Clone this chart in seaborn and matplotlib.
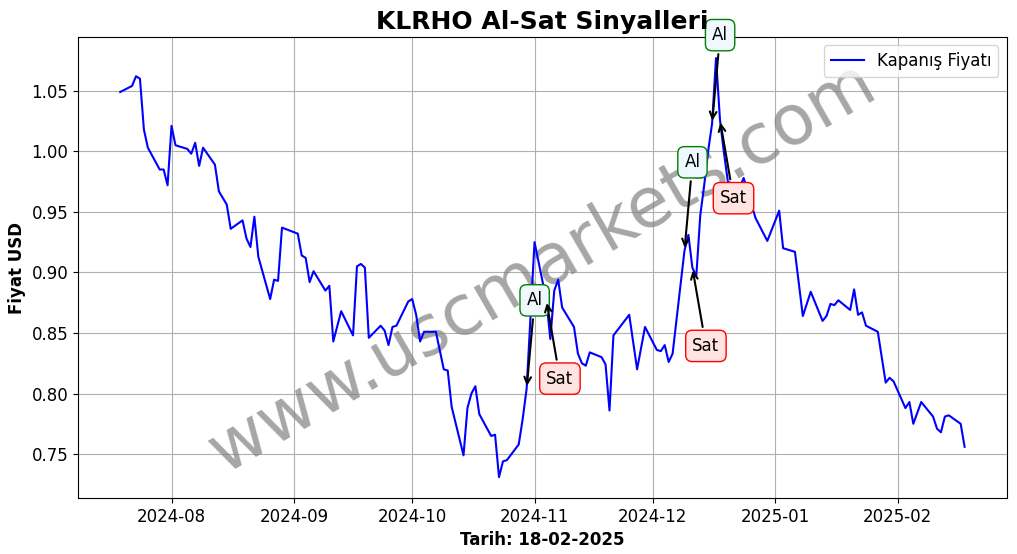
import pandas as pd
import matplotlib
matplotlib.use("Agg")
import matplotlib.pyplot as plt
import seaborn as sns

# Kapanis fiyatlari
tarihler = [
    "2024-07-19", "2024-07-22", "2024-07-23", "2024-07-24", "2024-07-25", "2024-07-26",
    "2024-07-29", "2024-07-30", "2024-07-31", "2024-08-01", "2024-08-02", "2024-08-05",
    "2024-08-06", "2024-08-07", "2024-08-08", "2024-08-09", "2024-08-12", "2024-08-13",
    "2024-08-15", "2024-08-16", "2024-08-19", "2024-08-20", "2024-08-21", "2024-08-22",
    "2024-08-23", "2024-08-26", "2024-08-27", "2024-08-28", "2024-08-29", "2024-09-02",
    "2024-09-03", "2024-09-04", "2024-09-05", "2024-09-06", "2024-09-09", "2024-09-10",
    "2024-09-11", "2024-09-13", "2024-09-16", "2024-09-17", "2024-09-18", "2024-09-19",
    "2024-09-20", "2024-09-23", "2024-09-24", "2024-09-25", "2024-09-26", "2024-09-27",
    "2024-09-30", "2024-10-01", "2024-10-02", "2024-10-03", "2024-10-04", "2024-10-07",
    "2024-10-09", "2024-10-10", "2024-10-11", "2024-10-14", "2024-10-15", "2024-10-16",
    "2024-10-17", "2024-10-18", "2024-10-21", "2024-10-22", "2024-10-23", "2024-10-24",
    "2024-10-25", "2024-10-28", "2024-10-29", "2024-10-30", "2024-11-01", "2024-11-04",
    "2024-11-05", "2024-11-06", "2024-11-07", "2024-11-08", "2024-11-11", "2024-11-12",
    "2024-11-13", "2024-11-14", "2024-11-15", "2024-11-18", "2024-11-19", "2024-11-20",
    "2024-11-21", "2024-11-25", "2024-11-27", "2024-11-29", "2024-12-02", "2024-12-03",
    "2024-12-04", "2024-12-05", "2024-12-06", "2024-12-09", "2024-12-10", "2024-12-11",
    "2024-12-12", "2024-12-13", "2024-12-14", "2024-12-15", "2024-12-16", "2024-12-17",
    "2024-12-18", "2024-12-19", "2024-12-20", "2024-12-23", "2024-12-24", "2024-12-27",
    "2024-12-30", "2025-01-02", "2025-01-03", "2025-01-06", "2025-01-08", "2025-01-10",
    "2025-01-13", "2025-01-14", "2025-01-15", "2025-01-16", "2025-01-17", "2025-01-20",
    "2025-01-21", "2025-01-22", "2025-01-23", "2025-01-24", "2025-01-27", "2025-01-29",
    "2025-01-30", "2025-01-31", "2025-02-03", "2025-02-04", "2025-02-05", "2025-02-07",
    "2025-02-10", "2025-02-11", "2025-02-12", "2025-02-13", "2025-02-14", "2025-02-17",
    "2025-02-18",
]
fiyatlar = [
    1.049, 1.054, 1.062, 1.060, 1.018, 1.003,
    0.985, 0.985, 0.972, 1.021, 1.005, 1.002,
    0.998, 1.007, 0.988, 1.003, 0.989, 0.967,
    0.956, 0.936, 0.943, 0.928, 0.921, 0.946,
    0.913, 0.878, 0.894, 0.893, 0.937, 0.932,
    0.914, 0.912, 0.892, 0.901, 0.885, 0.889,
    0.843, 0.868, 0.848, 0.905, 0.907, 0.904,
    0.846, 0.856, 0.852, 0.840, 0.855, 0.856,
    0.876, 0.878, 0.865, 0.843, 0.851, 0.851,
    0.820, 0.819, 0.789, 0.749, 0.788, 0.800,
    0.806, 0.783, 0.765, 0.766, 0.731, 0.744,
    0.745, 0.758, 0.779, 0.804, 0.925, 0.877,
    0.845, 0.885, 0.894, 0.871, 0.855, 0.833,
    0.825, 0.823, 0.834, 0.830, 0.824, 0.786,
    0.848, 0.865, 0.820, 0.855, 0.836, 0.835,
    0.840, 0.826, 0.833, 0.918, 0.931, 0.904,
    0.897, 0.947, 0.972, 1.000, 1.023, 1.077,
    1.026, 0.999, 0.975, 0.970, 0.978, 0.945,
    0.926, 0.951, 0.920, 0.917, 0.864, 0.884,
    0.860, 0.864, 0.874, 0.873, 0.877, 0.869,
    0.886, 0.865, 0.867, 0.856, 0.851, 0.809,
    0.813, 0.810, 0.788, 0.793, 0.775, 0.793,
    0.781, 0.771, 0.768, 0.781, 0.782, 0.775,
    0.756,
]

# Al / Sat sinyal tarihleri
al_tarihleri = ["2024-10-30", "2024-12-09", "2024-12-16"]
sat_tarihleri = ["2024-11-04", "2024-12-11", "2024-12-18"]

df = pd.DataFrame({"Tarih": pd.to_datetime(tarihler), "Fiyat": fiyatlar})
fiyat_map = dict(zip(df["Tarih"], df["Fiyat"]))

fig, ax = plt.subplots(figsize=(10.17, 5.54), dpi=100)
fig.subplots_adjust(left=0.0767, right=0.990, bottom=0.101, top=0.933)

sns.lineplot(data=df, x="Tarih", y="Fiyat", color="blue", linewidth=1.5,
             label="Kapanış Fiyatı", ax=ax)

for t in al_tarihleri:
    d = pd.Timestamp(t)
    ax.annotate("Al", xy=(d, fiyat_map[d]), xytext=(0, 60), textcoords="offset points",
                fontsize=12,
                bbox=dict(boxstyle="round,pad=0.4", fc="aliceblue", ec="green"),
                arrowprops=dict(arrowstyle="->", color="black", lw=1.5))

for t in sat_tarihleri:
    d = pd.Timestamp(t)
    ax.annotate("Sat", xy=(d, fiyat_map[d]), xytext=(0, -60), textcoords="offset points",
                fontsize=12,
                bbox=dict(boxstyle="round,pad=0.4", fc="mistyrose", ec="red"),
                arrowprops=dict(arrowstyle="->", color="black", lw=1.5))

# Filigran
ax.text(0.5, 0.5, "www.uscmarkets.com", transform=ax.transAxes, fontsize=50,
        color="gray", alpha=0.7, rotation=30, ha="center", va="center", zorder=1.8)

ax.set_title("KLRHO Al-Sat Sinyalleri", fontsize=18, fontweight="bold")
ax.set_xlabel("Tarih: 18-02-2025", fontsize=12, fontweight="bold")
ax.set_ylabel("Fiyat USD", fontsize=12, fontweight="bold")
ax.tick_params(labelsize=12)
ax.grid(True)
ax.legend(loc="upper right", fontsize=12)

fig.savefig("out.png", dpi=100)
